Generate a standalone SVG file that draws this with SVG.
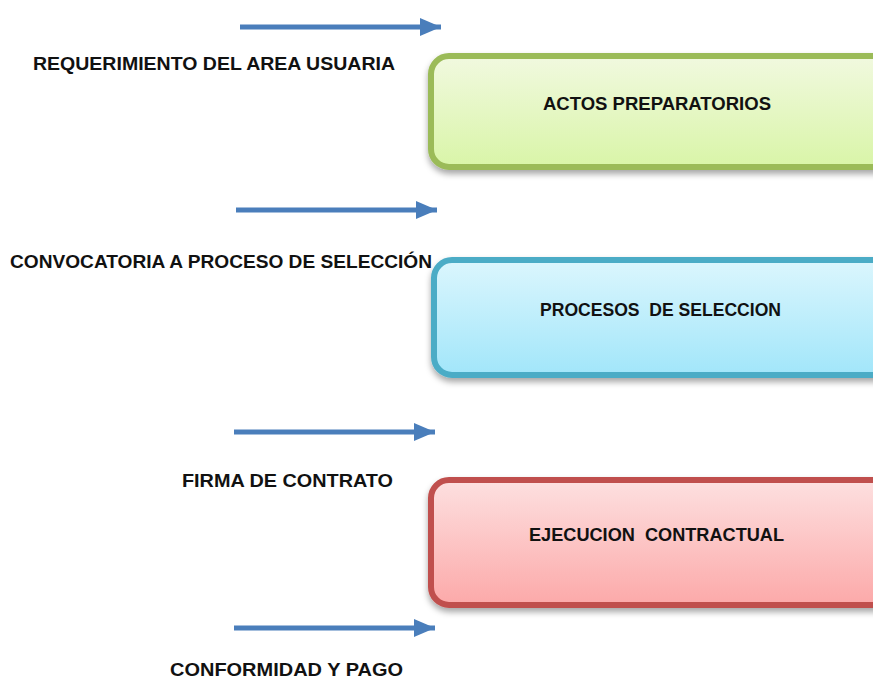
<svg xmlns="http://www.w3.org/2000/svg" width="873" height="679" viewBox="0 0 873 679">
<style>
.lbl{font-family:"Liberation Sans",Arial,sans-serif;font-weight:bold;font-size:19px;fill:#111}
.box{stroke-width:6}
.arr{stroke:#4a7ebb;stroke-width:5;fill:none}
</style>
<defs>
<marker id="ah" markerUnits="userSpaceOnUse" markerWidth="22" markerHeight="18" refX="21" refY="9" orient="auto">
<path d="M0,0 L21,9 L0,18 Z" fill="#4a7ebb"/>
</marker>
<linearGradient id="gG" x1="0" y1="0" x2="0" y2="1"><stop offset="0" stop-color="#f1f9df"/><stop offset="1" stop-color="#d9f5a8"/></linearGradient>
<linearGradient id="gB" x1="0" y1="0" x2="0" y2="1"><stop offset="0" stop-color="#dbf6fd"/><stop offset="1" stop-color="#a2e6fa"/></linearGradient>
<linearGradient id="gR" x1="0" y1="0" x2="0" y2="1"><stop offset="0" stop-color="#fde0e0"/><stop offset="1" stop-color="#fca9a9"/></linearGradient>
<filter id="sh" x="-5%" y="-10%" width="115%" height="130%"><feDropShadow dx="0" dy="4" stdDeviation="3" flood-color="#000" flood-opacity="0.35"/></filter>
</defs>
<g id="connectors">
<line class="arr" x1="240" y1="27" x2="441" y2="27" marker-end="url(#ah)"/>
<line class="arr" x1="236" y1="210" x2="437" y2="210" marker-end="url(#ah)"/>
<line class="arr" x1="234" y1="432" x2="435" y2="432" marker-end="url(#ah)"/>
<line class="arr" x1="234" y1="628" x2="435" y2="628" marker-end="url(#ah)"/>
</g>
<g id="label1"><text class="lbl" x="33" y="70" textLength="362" lengthAdjust="spacingAndGlyphs">REQUERIMIENTO DEL AREA USUARIA</text></g>
<g id="label2"><text class="lbl" x="10" y="268" textLength="422" lengthAdjust="spacingAndGlyphs">CONVOCATORIA A PROCESO DE SELECCIÓN</text></g>
<g id="label3"><text class="lbl" x="182" y="487" textLength="211" lengthAdjust="spacingAndGlyphs">FIRMA DE CONTRATO</text></g>
<g id="label4"><text class="lbl" x="170" y="676" textLength="233" lengthAdjust="spacingAndGlyphs">CONFORMIDAD Y PAGO</text></g>
<g id="actos">
<rect class="box" x="431" y="56" width="470" height="111" rx="18" fill="url(#gG)" stroke="#9bbb59" filter="url(#sh)"/>
<text class="lbl" x="543" y="110" textLength="228" lengthAdjust="spacingAndGlyphs">ACTOS PREPARATORIOS</text>
</g>
<g id="procesos">
<rect class="box" x="434" y="260" width="470" height="115" rx="18" fill="url(#gB)" stroke="#4bacc6" filter="url(#sh)"/>
<text class="lbl" x="540" y="316" textLength="241" lengthAdjust="spacingAndGlyphs" xml:space="preserve">PROCESOS  DE SELECCION</text>
</g>
<g id="ejecucion">
<rect class="box" x="431" y="480" width="470" height="125" rx="18" fill="url(#gR)" stroke="#c0504d" filter="url(#sh)"/>
<text class="lbl" x="529" y="541" textLength="255" lengthAdjust="spacingAndGlyphs" xml:space="preserve">EJECUCION  CONTRACTUAL</text>
</g>
</svg>
